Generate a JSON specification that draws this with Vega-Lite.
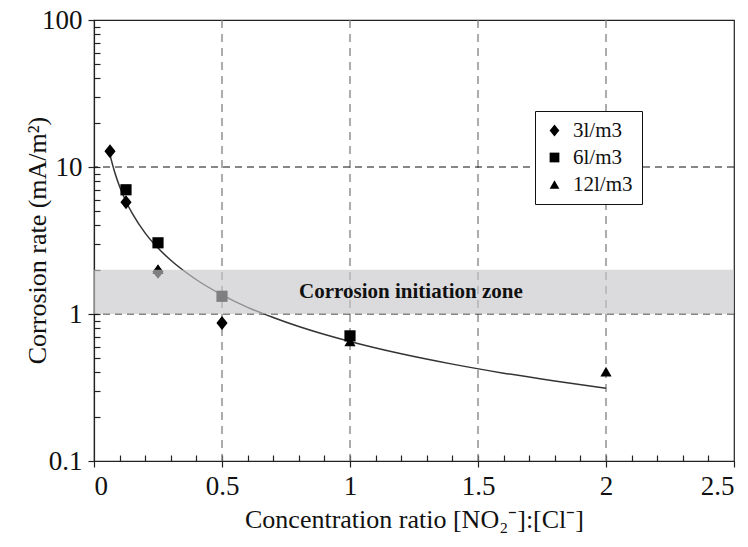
{
  "$schema": "https://vega.github.io/schema/vega-lite/v6.json",
  "width": 640,
  "height": 441,
  "autosize": {"type": "none"},
  "padding": {"left": 94, "top": 20, "right": 14, "bottom": 86},
  "background": "white",
  "config": {
    "view": {"stroke": "#222", "strokeWidth": 1.2},
    "font": "Liberation Serif",
    "style": {"guide-label": {"font": "Liberation Serif"}, "guide-title": {"font": "Liberation Serif"}},
    "legend": {"labelFont": "Liberation Serif", "labelFontSize": 21, "labelColor": "#111"},
    "axis": {
      "labelFont": "Liberation Serif",
      "labelFontSize": 27,
      "labelColor": "#111",
      "titleFont": "Liberation Serif",
      "titleFontSize": 26,
      "titleFontWeight": "normal",
      "titleColor": "#111",
      "domainColor": "#222",
      "domainWidth": 1.2,
      "tickColor": "#222",
      "tickWidth": 1.2
    }
  },
  "datasets": {
    "pts": [
      {"ratio": 0.0625, "rate": 12.8, "series": "3l/m3"},
      {"ratio": 0.125, "rate": 5.75, "series": "3l/m3"},
      {"ratio": 0.25, "rate": 1.94, "series": "3l/m3"},
      {"ratio": 0.5, "rate": 0.87, "series": "3l/m3"},
      {"ratio": 0.125, "rate": 7.0, "series": "6l/m3"},
      {"ratio": 0.25, "rate": 3.05, "series": "6l/m3"},
      {"ratio": 0.5, "rate": 1.32, "series": "6l/m3"},
      {"ratio": 1.0, "rate": 0.71, "series": "6l/m3"},
      {"ratio": 0.25, "rate": 2.02, "series": "12l/m3"},
      {"ratio": 1.0, "rate": 0.65, "series": "12l/m3"},
      {"ratio": 2.0, "rate": 0.405, "series": "12l/m3"}
    ],
    "fit": [
      {"ratio": 0.0625, "rate": 12.1},
      {"ratio": 0.08, "rate": 9.33},
      {"ratio": 0.1, "rate": 7.38},
      {"ratio": 0.125, "rate": 5.83},
      {"ratio": 0.15, "rate": 4.81},
      {"ratio": 0.2, "rate": 3.55},
      {"ratio": 0.25, "rate": 2.81},
      {"ratio": 0.3, "rate": 2.32},
      {"ratio": 0.4, "rate": 1.71},
      {"ratio": 0.5, "rate": 1.35},
      {"ratio": 0.6, "rate": 1.11},
      {"ratio": 0.7, "rate": 0.947},
      {"ratio": 0.8, "rate": 0.822},
      {"ratio": 1.0, "rate": 0.65},
      {"ratio": 1.2, "rate": 0.536},
      {"ratio": 1.4, "rate": 0.456},
      {"ratio": 1.6, "rate": 0.396},
      {"ratio": 1.8, "rate": 0.35},
      {"ratio": 2.0, "rate": 0.313}
    ],
    "gx": [{"ratio": 0.5}, {"ratio": 1.0}, {"ratio": 1.5}, {"ratio": 2.0}],
    "gy": [{"rate": 1}, {"rate": 10}],
    "band": [{"lo": 1, "hi": 2}],
    "lbl": [{"ratio": 1.238, "rate": 1.41, "t": "Corrosion initiation zone"}]
  },
  "resolve": {"axis": {"x": "independent", "y": "independent"}},
  "layer": [
    {
      "data": {"name": "gx"},
      "mark": {"type": "rule", "color": "#808080", "strokeDash": [8, 6], "strokeWidth": 1.3},
      "encoding": {
        "x": {"field": "ratio", "type": "quantitative", "scale": {"domain": [0, 2.5], "nice": false, "zero": false}, "axis": null}
      }
    },
    {
      "data": {"name": "gy"},
      "mark": {"type": "rule", "color": "#111", "strokeDash": [7, 5], "strokeWidth": 1.2},
      "encoding": {
        "y": {"field": "rate", "type": "quantitative", "scale": {"type": "log", "domain": [0.1, 100], "nice": false}, "axis": null}
      }
    },
    {
      "data": {"name": "fit"},
      "mark": {"type": "line", "color": "#333", "strokeWidth": 1.5, "interpolate": "monotone"},
      "encoding": {
        "x": {"field": "ratio", "type": "quantitative", "scale": {"domain": [0, 2.5], "nice": false, "zero": false},
          "axis": {"orient": "bottom", "values": [0.1,0.2,0.3,0.4,0.5,0.6,0.7,0.8,0.9,1,1.1,1.2,1.3,1.4,1.5,1.6,1.7,1.8,1.9,2,2.1,2.2,2.3,2.4], "labels": false, "domain": false, "grid": false, "title": null, "tickSize": -6}},
        "y": {"field": "rate", "type": "quantitative", "scale": {"type": "log", "domain": [0.1, 100], "nice": false},
          "axis": {"orient": "left", "values": [0.2,0.3,0.4,0.5,0.6,0.7,0.8,0.9,1,2,3,4,5,6,7,8,9,10,20,30,40,50,60,70,80,90], "labels": false, "domain": false, "grid": false, "title": null, "tickSize": -6}}
      }
    },
    {
      "data": {"name": "pts"},
      "mark": {"type": "point", "filled": true, "opacity": 1, "color": "black", "size": 125},
      "encoding": {
        "x": {"field": "ratio", "type": "quantitative", "scale": {"domain": [0, 2.5], "nice": false, "zero": false},
          "axis": {"orient": "bottom", "values": [0, 0.5, 1, 1.5, 2, 2.5], "format": "~g", "grid": false, "tickSize": 6, "labelPadding": 6, "title": "Concentration ratio [NO₂⁻]:[Cl⁻]", "titlePadding": 7}},
        "y": {"field": "rate", "type": "quantitative", "scale": {"type": "log", "domain": [0.1, 100], "nice": false},
          "axis": {"orient": "left", "values": [0.1, 1, 10, 100], "format": "~g", "grid": false, "tickSize": 6, "labelPadding": 6, "title": "Corrosion rate (mA/m²)", "titleX": -57, "titleY": 220, "titleBaseline": "middle", "titleAlign": "center", "titleAngle": -90}},
        "shape": {"field": "series", "type": "nominal",
          "scale": {"domain": ["3l/m3", "6l/m3", "12l/m3"], "range": ["M0,-1.25L1,0L0,1.25L-1,0Z", "square", "triangle-up"]},
          "legend": {"title": null, "orient": "none", "legendX": 441, "legendY": 91, "strokeColor": "#111", "fillColor": "white", "padding": 9, "labelFont": "Liberation Serif", "labelFontSize": 21, "labelColor": "#111", "symbolSize": 95, "symbolFillColor": "black", "symbolStrokeColor": "black", "symbolStrokeWidth": 0, "rowPadding": 5, "labelOffset": 8,
            "labelExpr": "datum.label",
            "encode": {"labels": {"update": {"font": {"value": "Liberation Serif"}, "fontSize": {"value": 21}}}}}}
      }
    },
    {
      "data": {"name": "band"},
      "mark": {"type": "rect", "color": "#c6c6cc", "opacity": 0.64},
      "encoding": {
        "y": {"field": "lo", "type": "quantitative", "scale": {"type": "log", "domain": [0.1, 100], "nice": false}, "axis": null},
        "y2": {"field": "hi"}
      }
    },
    {
      "data": {"name": "lbl"},
      "mark": {"type": "text", "font": "Liberation Serif", "fontSize": 21, "fontWeight": "bold", "color": "#111", "align": "center", "baseline": "middle"},
      "encoding": {
        "x": {"field": "ratio", "type": "quantitative", "scale": {"domain": [0, 2.5], "nice": false, "zero": false}, "axis": null},
        "y": {"field": "rate", "type": "quantitative", "scale": {"type": "log", "domain": [0.1, 100], "nice": false}, "axis": null},
        "text": {"field": "t"}
      }
    }
  ]
}
